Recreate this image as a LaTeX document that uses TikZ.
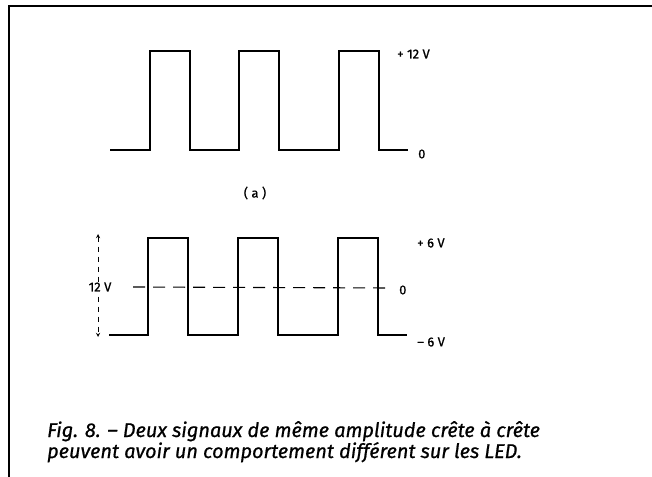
\documentclass[tikz,border=0pt]{standalone}
\usepackage{fontspec}
\setsansfont{Fira Sans}[FakeBold=0.8]
\usetikzlibrary{arrows,positioning}

\begin{document}
\begin{tikzpicture}[x=1bp, y=-1bp]
  % styles
  \tikzstyle{signal} = [line width=1.8bp, line join=miter]
  \tikzstyle{level} = [font=\sffamily\fontsize{13}{15}\selectfont, anchor=west, inner sep=0pt]
  \tikzstyle{caption} = [font=\sffamily\itshape\fontsize{20}{22}\selectfont, anchor=base west, inner sep=0pt]
  \tikzstyle{zeroline} = [line width=1.1bp, dash pattern=on 12bp off 8bp]

  \useasboundingbox (0,0) rectangle (652,477);

  % frame
  \draw[line width=2.2bp] (9,477) -- (9,6) -- (652,6);

  % signal (a): 0 / +12 V
  \draw[signal] (110,150) -- (150,150) -- (150,51) -- (190,51) -- (190,150)
    -- (239,150) -- (239,51) -- (279,51) -- (279,150) -- (339,150) -- (339,51)
    -- (379,51) -- (379,150) -- (408,150);
  \node[level] (p12) at (397,54) {+ 12 V};
  \node[level] (z1) at (418,154) {0};
  \node[font=\sffamily\fontsize{13}{15}\selectfont] (lbla) at (255,193) {( a )};

  % signal (b): -6 V / +6 V
  \draw[zeroline] (133,287) -- (392,288);
  \draw[signal] (109,335) -- (148,335) -- (148,238) -- (188,238) -- (188,335)
    -- (238,335) -- (238,238) -- (278,238) -- (278,335) -- (338,335) -- (338,238)
    -- (378,238) -- (378,335) -- (407,335);
  \node[level] (p6) at (417,243) {+ 6 V};
  \node[level] (z2) at (399,290) {0};
  \node[level] (m6) at (417,342) {-- 6 V};

  % peak to peak
  \coordinate (ptop) at (98,234);
  \coordinate (pbot) at (98,337);
  \draw[line width=0.9bp, dash pattern=on 5bp off 5bp, <->, >=stealth] (ptop) -- (pbot);
  \node[font=\sffamily\fontsize{13}{15}\selectfont, fill=white, inner sep=1pt] (pp) at (100,287) {12 V};

  % caption
  \node[caption] (cap1) at (47,437) {Fig. 8. -- Deux signaux de même amplitude crête à crête};
  \node[caption] (cap2) at (47,458) {peuvent avoir un comportement différent sur les LED.};
\end{tikzpicture}
\end{document}
